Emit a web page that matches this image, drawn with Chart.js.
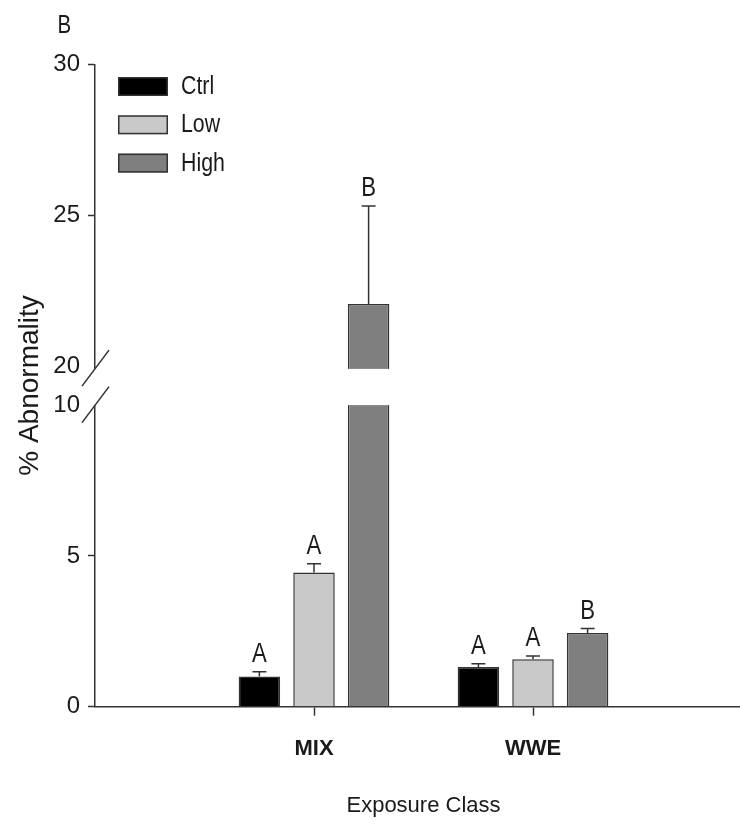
<!DOCTYPE html>
<html>
<head>
<meta charset="utf-8">
<script src="https://cdn.jsdelivr.net/npm/chart.js@4/dist/chart.umd.min.js"></script>
<style>
html, body { margin: 0; padding: 0; overflow: hidden; background: #ffffff; }
#wrap { width: 772px; height: 827px; position: relative; }
canvas { display: block; }
</style>
</head>
<body>
<div id="wrap"><canvas id="c" width="772" height="827"></canvas></div>
<script>
// ---- data ----
const categories = ['MIX', 'WWE'];
const seriesNames = ['Ctrl', 'Low', 'High'];
const ctrlValues = [1.0, 1.32];
const lowValues = [4.45, 1.57];
const highValues = [22.05, 2.44];
const ctrlErrors = [0.16, 0.10];
const lowErrors = [0.29, 0.11];
const highErrors = [3.25, 0.15];
const ctrlLetters = ['A', 'A'];
const lowLetters = ['A', 'A'];
const highLetters = ['B', 'B'];
const yTickLabels = [0, 5, 10, 20, 25, 30];
const breakLow = 10;
const breakHigh = 20;
const panelLabel = 'B';

// ---- styling / helpers ----
const FONT = "'Liberation Sans', Arial, sans-serif";
const TEXT = '#1a1a1a';
const AXIS = '#333333';
const GAP = 1.3; // axis units reserved for the break
const SQUEEZE = 0.82; // horizontal condensation of annotation text
const seriesColors = ['#000000', '#c9c9c9', '#7f7f7f'];

function toDisp(v) { return v <= breakLow ? v : v - breakHigh + breakLow + GAP; }

const axisLabels = [''].concat(categories, ['']);
function pad(arr) { return [null].concat(arr, [null]); }

const valueSets = [ctrlValues, lowValues, highValues];
const errorSets = [ctrlErrors, lowErrors, highErrors];
const letterSets = [ctrlLetters, lowLetters, highLetters];

const datasets = seriesNames.map((name, i) => ({
  label: name,
  data: pad(valueSets[i].map(toDisp)),
  rawValues: pad(valueSets[i]),
  errors: pad(errorSets[i]),
  letters: pad(letterSets[i]),
  backgroundColor: seriesColors[i],
  borderColor: AXIS,
  borderWidth: 1.5,
  borderSkipped: 'start',
  categoryPercentage: 0.748,
  barPercentage: 0.76
}));

function squeezedText(ctx, text, x, y, align) {
  ctx.save();
  ctx.translate(x, y);
  ctx.scale(SQUEEZE, 1);
  ctx.textAlign = align;
  ctx.fillText(text, 0, 0);
  ctx.restore();
}

const overlayPlugin = {
  id: 'overlay',
  afterDatasetsDraw(chart) {
    const ctx = chart.ctx;
    const ys = chart.scales.y;
    const ca = chart.chartArea;
    ctx.save();
    // error bars + letters
    chart.data.datasets.forEach((ds, di) => {
      const meta = chart.getDatasetMeta(di);
      meta.data.forEach((el, j) => {
        const v = ds.rawValues[j];
        if (v === null || v === undefined) return;
        const e = ds.errors[j];
        const yc = ys.getPixelForValue(toDisp(v + e));
        ctx.strokeStyle = AXIS;
        ctx.lineWidth = 1.5;
        ctx.beginPath();
        ctx.moveTo(el.x, el.y);
        ctx.lineTo(el.x, yc);
        ctx.moveTo(el.x - 7, yc);
        ctx.lineTo(el.x + 7, yc);
        ctx.stroke();
        ctx.fillStyle = TEXT;
        ctx.font = '27px ' + FONT;
        ctx.textBaseline = 'alphabetic';
        squeezedText(ctx, ds.letters[j], el.x, yc - 10, 'center');
      });
    });
    // axis break
    const y10 = ys.getPixelForValue(toDisp(breakLow));
    const y20 = ys.getPixelForValue(toDisp(breakHigh));
    ctx.fillStyle = '#ffffff';
    ctx.fillRect(ca.left - 3, y20 + 3, ca.right - ca.left + 6, y10 - y20 - 3);
    ctx.strokeStyle = AXIS;
    ctx.lineWidth = 1.5;
    [y20 + 2.7, y10].forEach(yc => {
      ctx.beginPath();
      ctx.moveTo(ca.left - 13, yc + 17.5);
      ctx.lineTo(ca.left + 14, yc - 18.5);
      ctx.stroke();
    });
    // legend
    ctx.font = '26px ' + FONT;
    ctx.textBaseline = 'middle';
    chart.data.datasets.forEach((ds, i) => {
      const top = 77 + i * 38.3;
      ctx.fillStyle = ds.backgroundColor;
      ctx.fillRect(118, top, 50, 19);
      ctx.strokeStyle = AXIS;
      ctx.lineWidth = 1.5;
      ctx.strokeRect(118.75, top + 0.75, 48.5, 17.5);
      ctx.fillStyle = TEXT;
      squeezedText(ctx, ds.label, 181, top + 10, 'left');
    });
    // panel label
    ctx.font = '25px ' + FONT;
    ctx.textBaseline = 'alphabetic';
    ctx.fillStyle = TEXT;
    squeezedText(ctx, panelLabel, 57.5, 33, 'left');
    ctx.restore();
  }
};

new Chart(document.getElementById('c'), {
  type: 'bar',
  data: { labels: axisLabels, datasets: datasets },
  options: {
    responsive: false,
    maintainAspectRatio: false,
    animation: false,
    devicePixelRatio: 1,
    layout: { padding: { left: 0, right: 0, top: 64.3, bottom: 0 } },
    plugins: { legend: { display: false }, tooltip: { enabled: false } },
    scales: {
      x: {
        type: 'category',
        offset: false,
        grid: {
          offset: false,
          drawOnChartArea: false,
          drawTicks: true,
          tickLength: 9,
          tickWidth: 1.5,
          tickColor: (c) => (axisLabels[c.index] ? AXIS : 'rgba(0,0,0,0)')
        },
        border: { display: true, color: AXIS, width: 1.5 },
        ticks: {
          autoSkip: false,
          maxRotation: 0,
          padding: 20,
          color: TEXT,
          font: { family: FONT, size: 22, weight: 'bold' }
        },
        title: {
          display: true,
          text: 'Exposure Class',
          color: TEXT,
          font: { family: FONT, size: 22 },
          padding: { top: 0, bottom: 8 }
        },
        afterFit: (s) => { s.height = 827 - 706.7; }
      },
      y: {
        min: 0,
        max: toDisp(yTickLabels[yTickLabels.length - 1]),
        afterBuildTicks: (s) => { s.ticks = yTickLabels.map(v => ({ value: toDisp(v) })); },
        grid: {
          drawOnChartArea: false,
          drawTicks: true,
          tickLength: 7,
          tickWidth: 1.5,
          tickColor: (c) => ((yTickLabels[c.index] === breakLow || yTickLabels[c.index] === breakHigh) ? 'rgba(0,0,0,0)' : AXIS)
        },
        border: { display: true, color: AXIS, width: 1.5 },
        ticks: {
          padding: 8,
          color: TEXT,
          font: { family: FONT, size: 24 },
          callback: (val, idx) => String(yTickLabels[idx])
        },
        title: {
          display: true,
          text: '% Abnormality',
          color: TEXT,
          font: { family: FONT, size: 28 },
          padding: { top: 13, bottom: 0 }
        },
        afterFit: (s) => { s.width = 95; }
      }
    }
  },
  plugins: [overlayPlugin]
});
</script>
</body>
</html>
